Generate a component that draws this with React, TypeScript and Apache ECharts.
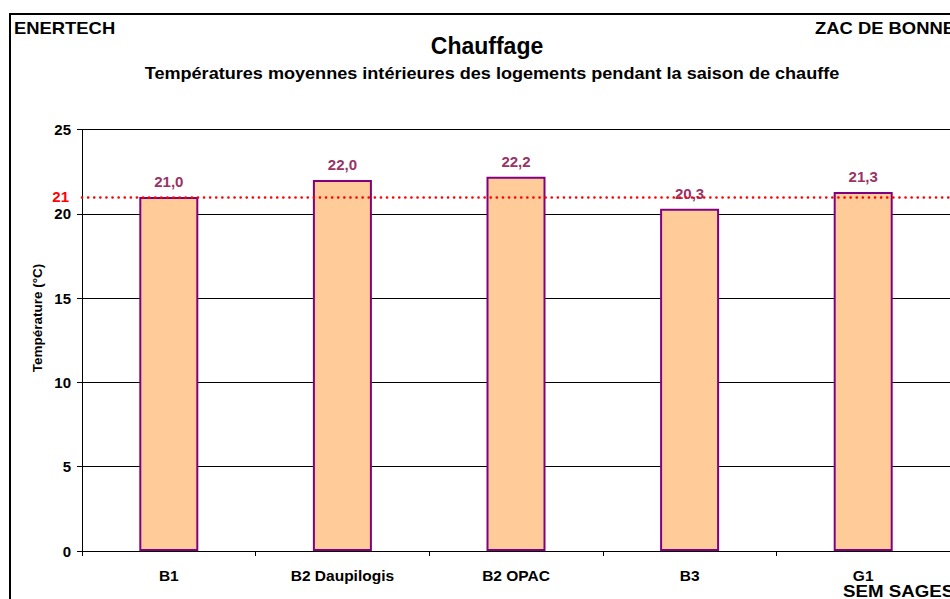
import React, { useEffect, useRef } from "react";
import * as echarts from "echarts";

const categories = ["B1", "B2 Daupilogis", "B2 OPAC", "B3", "G1"];
const temperatures = [21.0, 22.0, 22.2, 20.3, 21.3];
const referenceTemp = 21;
const yTicks = { min: 0, max: 25, interval: 5 };

const FONT = "'Liberation Sans', Arial, sans-serif";

export default function App() {
  const ref = useRef<HTMLDivElement>(null);
  useEffect(() => {
    if (!ref.current) return;
    const chart = echarts.init(ref.current, null, { renderer: "svg" });
    chart.setOption({
      animation: false,
      backgroundColor: "#ffffff",
      textStyle: { fontFamily: FONT },
      grid: { left: 82, top: 129.5, width: 870, bottom: 48, containLabel: false },
      xAxis: {
        type: "category",
        data: categories,
        boundaryGap: true,
        z: 5,
        axisLine: { lineStyle: { color: "#000", width: 1 } },
        axisTick: { show: true, length: 5, lineStyle: { color: "#000" }, alignWithLabel: false },
        axisLabel: { color: "#000", fontWeight: "bold", fontSize: 15.5, fontFamily: FONT, margin: 16 },
      },
      yAxis: {
        type: "value",
        min: yTicks.min,
        max: yTicks.max,
        interval: yTicks.interval,
        axisLine: { show: true, lineStyle: { color: "#000", width: 1 } },
        axisTick: { show: true, length: 5, lineStyle: { color: "#000" } },
        axisLabel: { color: "#000", fontWeight: "bold", fontSize: 15, fontFamily: FONT, margin: 11 },
        splitLine: { show: true, lineStyle: { color: "#000", width: 1 } },
      },
      series: [
        {
          type: "bar",
          data: temperatures,
          barWidth: 59,
          itemStyle: { color: "#FFCC99", borderColor: "#800080", borderWidth: 2 },
          label: {
            show: true,
            position: "top",
            distance: 8,
            color: "#993366",
            fontWeight: "bold",
            fontSize: 15,
            fontFamily: FONT,
            formatter: (p: any) => p.value.toFixed(1).replace(".", ","),
          },
          markLine: {
            silent: true,
            symbol: "none",
            z: 10,
            lineStyle: { color: "#FF0000", width: 2.6, type: [0.1, 6], cap: "round" },
            label: {
              show: true,
              position: "start",
              distance: 13,
              formatter: String(referenceTemp),
              color: "#FF0000",
              fontWeight: "bold",
              fontSize: 15,
              fontFamily: FONT,
            },
            data: [{ yAxis: referenceTemp }],
          },
        },
      ],
      graphic: [
        {
          type: "rect",
          shape: { x: 10, y: 14, width: 1000, height: 700 },
          style: { fill: "none", stroke: "#000", lineWidth: 2 },
          silent: true,
        },
        {
          type: "text",
          x: 14,
          y: 20,
          scaleX: 1.15,
          style: { text: "ENERTECH", font: `bold 16px ${FONT}`, fill: "#000" },
        },
        {
          type: "text",
          x: 815,
          y: 20,
          scaleX: 1.15,
          style: { text: "ZAC DE BONNE", font: `bold 16px ${FONT}`, fill: "#000" },
        },
        {
          type: "text",
          x: 487,
          y: 34,
          style: { text: "Chauffage", font: `bold 23px ${FONT}`, fill: "#000", textAlign: "center" },
        },
        {
          type: "text",
          x: 492,
          y: 66,
          scaleX: 1.13,
          style: {
            text: "Températures moyennes intérieures des logements pendant la saison de chauffe",
            font: `bold 16px ${FONT}`,
            fill: "#000",
            textAlign: "center",
          },
        },
        {
          type: "text",
          x: 37,
          y: 318,
          rotation: Math.PI / 2,
          style: {
            text: "Température (°C)",
            font: `bold 13.5px ${FONT}`,
            fill: "#000",
            textAlign: "center",
            textVerticalAlign: "middle",
          },
        },
        {
          type: "text",
          x: 843,
          y: 583,
          scaleX: 1.1,
          style: { text: "SEM SAGES", font: `bold 17px ${FONT}`, fill: "#000" },
        },
      ],
    });
    return () => chart.dispose();
  }, []);
  return (
    <div
      ref={ref}
      style={{ position: "fixed", left: 0, top: 0, width: 950, height: 599, overflow: "hidden" }}
    />
  );
}
